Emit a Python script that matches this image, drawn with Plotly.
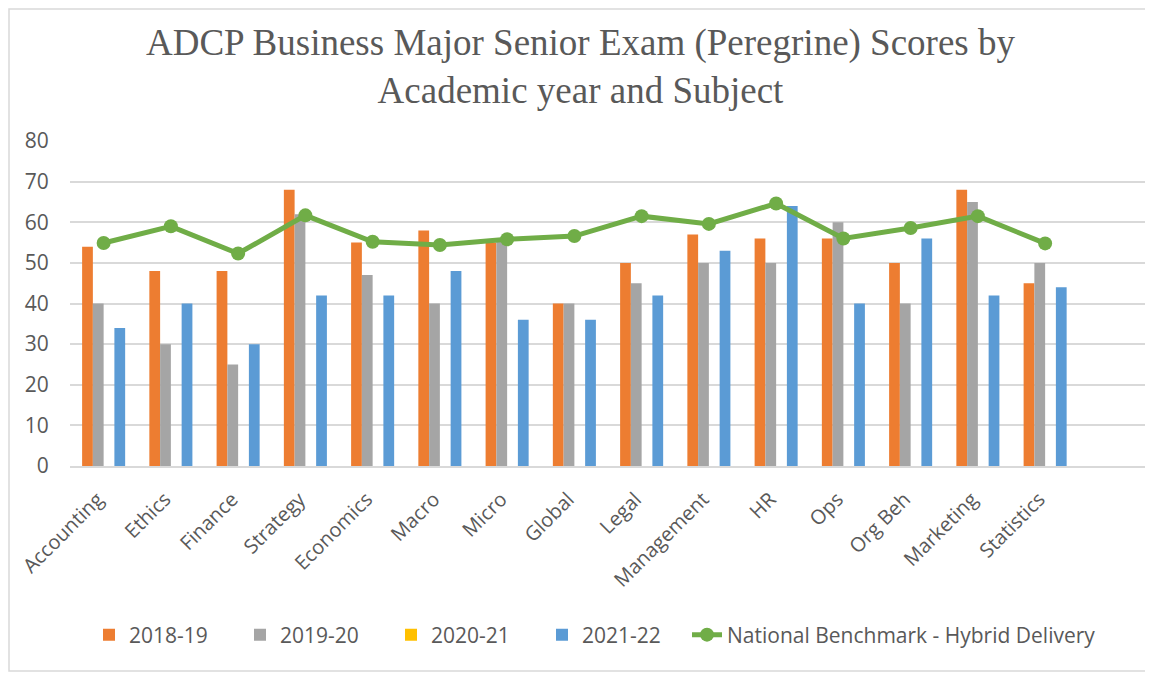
import plotly.graph_objects as go

# ---- data ----
subjects = ["Accounting", "Ethics", "Finance", "Strategy", "Economics", "Macro",
            "Micro", "Global", "Legal", "Management", "HR", "Ops", "Org Beh",
            "Marketing", "Statistics"]
y2018_19 = [54, 48, 48, 68, 55, 58, 55, 40, 50, 57, 56, 56, 50, 68, 45]
y2019_20 = [40, 30, 25, 62, 47, 40, 56, 40, 45, 50, 50, 60, 40, 65, 50]
y2020_21 = [None] * 15
y2021_22 = [34, 40, 30, 42, 42, 48, 36, 36, 42, 53, 64, 40, 56, 42, 44]
benchmark = [54.9, 59.0, 52.3, 61.7, 55.2, 54.4, 55.8, 56.6, 61.5, 59.6,
             64.6, 56.0, 58.6, 61.5, 54.8]

TEXT = "#595959"
GRID = "#D9D9D9"
SANS = "Open Sans, Segoe UI, sans-serif"

# the page body adds an 8px margin, so the figure is drawn 8px smaller
W, H = 1145, 665
ML, MR, MT, MB = 62, 7, 133, 207

fig = go.Figure()
for name, vals, col in [("2018-19", y2018_19, "#ED7D31"),
                        ("2019-20", y2019_20, "#A5A5A5"),
                        ("2020-21", y2020_21, "#FFC000"),
                        ("2021-22", y2021_22, "#5B9BD5")]:
    fig.add_trace(go.Bar(x=subjects, y=vals, name=name, legend="legend",
                         marker=dict(color=col, line=dict(width=0))))

fig.add_trace(go.Scatter(
    x=subjects, y=benchmark, name="National Benchmark - Hybrid Delivery",
    legend="legend2", mode="lines+markers",
    line=dict(color="#70AD47", width=5),
    marker=dict(color="#70AD47", size=14),
))

# thin frame round the whole chart
pw, ph = W - ML - MR, H - MT - MB
def px_x(v): return (v - ML) / pw
def px_y(v): return (H - MB - v) / ph
fig.add_shape(type="rect", xref="paper", yref="paper",
              x0=px_x(1), x1=px_x(W - 4), y0=px_y(H - 2), y1=px_y(1),
              line=dict(color=GRID, width=1.5), fillcolor="rgba(0,0,0,0)",
              layer="below")

legend_style = dict(
    orientation="h", xref="container", xanchor="left",
    y=1 - 627 / H, yref="container", yanchor="middle",
    font=dict(size=21, color=TEXT), bgcolor="rgba(0,0,0,0)",
)

fig.update_layout(
    width=W, height=H,
    margin=dict(l=ML, r=MR, t=MT, b=MB),
    paper_bgcolor="white", plot_bgcolor="white",
    barmode="group", bargap=0.36, bargroupgap=0,
    title=dict(
        text="ADCP Business Major Senior Exam (Peregrine) Scores by<br>Academic year and Subject",
        font=dict(family="Liberation Serif, Times New Roman, serif", size=37, color=TEXT),
        x=0.5, xref="container", xanchor="center",
        y=1 - 47 / H, yref="container", yanchor="top",
    ),
    font=dict(family=SANS, color=TEXT),
    xaxis=dict(
        type="category", range=[-0.5, 15.5],
        tickangle=-45, tickfont=dict(size=20, color=TEXT),
        ticks="outside", ticklen=12, tickcolor="rgba(0,0,0,0)",
        ticklabelshift=-6,
        showgrid=False, showline=True, linecolor=GRID, linewidth=1.5,
        zeroline=False,
    ),
    yaxis=dict(
        range=[0, 80], dtick=10,
        tickfont=dict(size=21, color=TEXT),
        ticks="outside", ticklen=16, tickcolor="rgba(0,0,0,0)",
        showgrid=True, gridcolor=GRID, gridwidth=1.5,
        zeroline=False, showline=False,
    ),
    legend=dict(x=81 / W, entrywidth=106, **legend_style),
    legend2=dict(x=679 / W, **legend_style),
)

fig.write_html("out.html")
